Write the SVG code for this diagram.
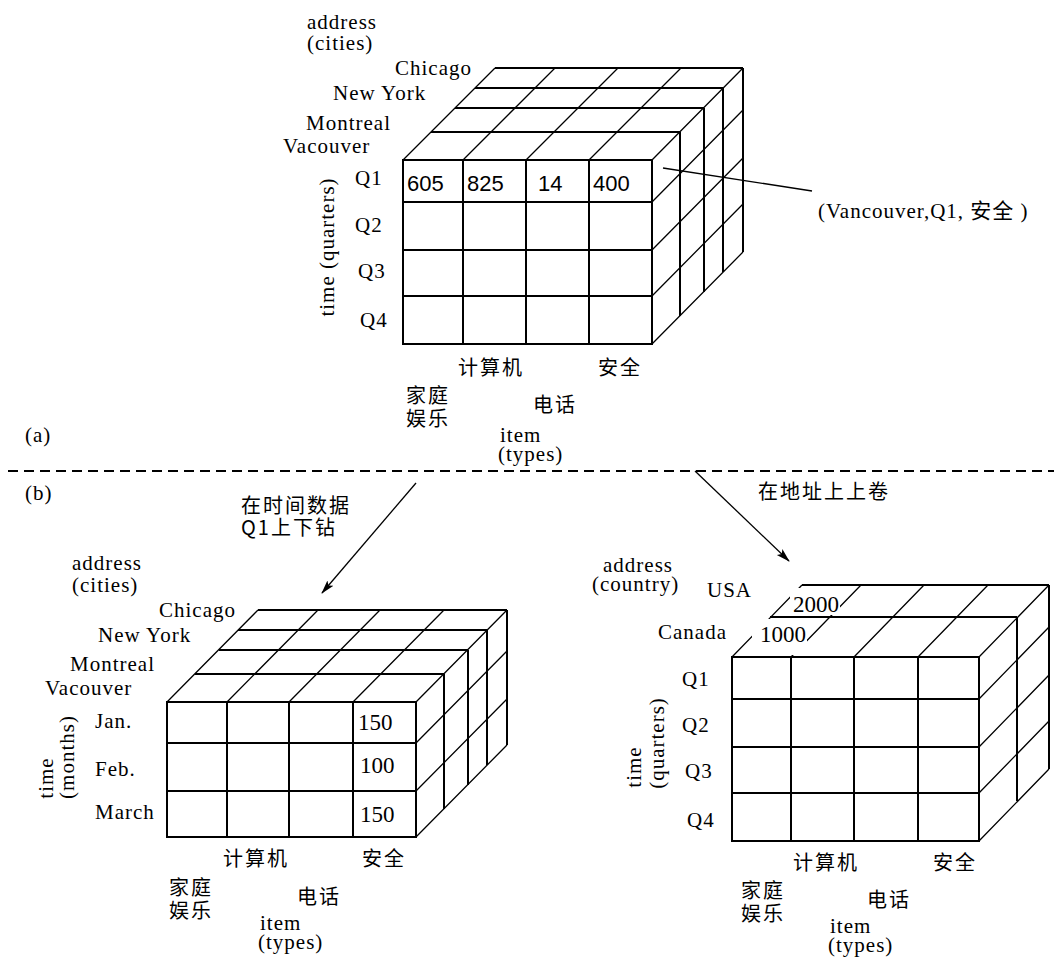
<svg xmlns="http://www.w3.org/2000/svg" width="1054" height="961" viewBox="0 0 1054 961">
<defs>
<style>
.s{font-family:"Liberation Serif","Times New Roman",serif;font-size:21px;letter-spacing:1px;fill:#000}
.n{font-family:"Liberation Sans",Arial,sans-serif;font-size:22px;fill:#000}
.d{font-family:"Liberation Serif","Times New Roman",serif;font-size:23px;fill:#000}
.c{font-family:"Noto Sans CJK SC","Noto Sans",sans-serif;font-size:20px;letter-spacing:2px;fill:#000}
.m{font-family:"Liberation Serif","Noto Sans CJK SC",serif;font-size:21px;letter-spacing:1px;fill:#000}
.g{fill:none;stroke:#000;stroke-width:2}
.dg{fill:none;stroke:#000;stroke-width:1.3}
.cn{fill:none;stroke:#000;stroke-width:1.3}
</style>
<marker id="ah" markerWidth="14" markerHeight="10" refX="13" refY="5" orient="auto" markerUnits="userSpaceOnUse">
<path d="M0,1 L14,5 L0,9 L3,5 Z" fill="#000"/>
</marker>
</defs>
<rect width="1054" height="961" fill="#fff"/>

<g id="cube-a">
<path class="g" d="M403,160H652V344H403Z M403,202H652 M403,250H652 M403,296H652 M463,160V344 M526,160V344 M589,160V344
M431,132H680 M455,108H704 M475,88H723 M495,68H743
M680,132V316 M704,108V292 M723,88V272 M743,68V252"/>
<path class="dg" d="M403,160L495,68 M463,160L555,68 M526,160L618,68 M589,160L681,68 M652,160L743,68
M652,202L743,110 M652,250L743,158 M652,296L743,204 M652,344L743,252"/>
<text class="s"><tspan x="307" y="29">address</tspan><tspan x="307" y="50">(cities)</tspan></text>
<text class="s" x="395" y="75">Chicago</text>
<text class="s" x="333" y="100">New York</text>
<text class="s" x="306" y="130">Montreal</text>
<text class="s" x="283" y="153">Vacouver</text>
<text class="s" x="355" y="185">Q1</text>
<text class="s" x="355" y="232">Q2</text>
<text class="s" x="358" y="278">Q3</text>
<text class="s" x="360" y="327">Q4</text>
<text class="s" text-anchor="middle" transform="translate(334,247) rotate(-90)">time (quarters)</text>
<text class="n" x="407" y="191">605</text>
<text class="n" x="467" y="191">825</text>
<text class="n" x="538" y="191">14</text>
<text class="n" x="593" y="191">400</text>
<text class="c" x="458" y="375">计算机</text>
<text class="c" x="598" y="375">安全</text>
<text class="c"><tspan x="406" y="403">家庭</tspan><tspan x="406" y="426">娱乐</tspan></text>
<text class="c" x="533" y="412">电话</text>
<text class="s"><tspan x="500" y="442">item</tspan><tspan x="498" y="461">(types)</tspan></text>
<text class="m" x="818" y="218">(Vancouver,Q1, 安全 )</text>
</g>

<g id="labels">
<text class="s" x="25" y="442">(a)</text>
<text class="s" x="25" y="500">(b)</text>
<text class="c"><tspan x="241" y="513">在时间数据</tspan><tspan x="241" y="535">Q1上下钻</tspan></text>
<text class="c" x="758" y="499">在地址上上卷</text>
</g>

<g id="cube-b-left">
<path class="g" d="M167,702H416V837H167Z M167,743H416 M167,791H416 M227,702V837 M289,702V837 M353,702V837
M195,674H444 M219,650H468 M238,630H487 M258,610H507
M444,674V809 M468,650V785 M487,630V765 M507,610V745"/>
<path class="dg" d="M167,702L258,610 M227,702L318,610 M289,702L380,610 M353,702L444,610 M416,702L507,610
M416,743L507,651 M416,791L507,699 M416,837L507,745"/>
<text class="s"><tspan x="72" y="570">address</tspan><tspan x="72" y="592">(cities)</tspan></text>
<text class="s" x="159" y="617">Chicago</text>
<text class="s" x="98" y="642">New York</text>
<text class="s" x="70" y="671">Montreal</text>
<text class="s" x="45" y="695">Vacouver</text>
<text class="s" x="95" y="728">Jan.</text>
<text class="s" x="95" y="776">Feb.</text>
<text class="s" x="95" y="819">March</text>
<text class="s" text-anchor="middle" transform="translate(53,778) rotate(-90)"><tspan x="0" y="0">time</tspan><tspan x="21" y="21">(months)</tspan></text>
<text class="d" x="358" y="730">150</text>
<text class="d" x="360" y="773">100</text>
<text class="d" x="360" y="822">150</text>
<text class="c" x="223" y="866">计算机</text>
<text class="c" x="362" y="866">安全</text>
<text class="c"><tspan x="169" y="895">家庭</tspan><tspan x="169" y="918">娱乐</tspan></text>
<text class="c" x="297" y="904">电话</text>
<text class="s"><tspan x="260" y="930">item</tspan><tspan x="258" y="949">(types)</tspan></text>
</g>

<g id="cube-b-right">
<path class="g" d="M732,657H979V841H732Z M732,699H979 M732,747H979 M732,793H979 M791,657V841 M854,657V841 M918,657V841
M770,617H1017 M802,585H1049 M1017,617V801 M1049,585V769"/>
<path class="dg" d="M732,657L802,585 M791,657L861,585 M854,657L924,585 M918,657L988,585 M979,657L1049,585
M979,699L1049,627 M979,747L1049,675 M979,793L1049,721 M979,841L1049,769"/>
<rect x="790" y="588" width="50" height="27" fill="#fff"/>
<rect x="752" y="619" width="55" height="36" fill="#fff"/>
<text class="d" x="793" y="612">2000</text>
<text class="d" x="760" y="642">1000</text>
<text class="s"><tspan x="603" y="572">address</tspan><tspan x="592" y="591">(country)</tspan></text>
<text class="s" x="707" y="597">USA</text>
<text class="s" x="658" y="639">Canada</text>
<text class="s" x="682" y="686">Q1</text>
<text class="s" x="682" y="732">Q2</text>
<text class="s" x="685" y="778">Q3</text>
<text class="s" x="687" y="827">Q4</text>
<text class="s" text-anchor="middle" transform="translate(641,767) rotate(-90)"><tspan x="0" y="0">time</tspan><tspan x="24" y="23">(quarters)</tspan></text>
<text class="c" x="793" y="870">计算机</text>
<text class="c" x="933" y="870">安全</text>
<text class="c"><tspan x="741" y="898">家庭</tspan><tspan x="741" y="921">娱乐</tspan></text>
<text class="c" x="867" y="907">电话</text>
<text class="s"><tspan x="830" y="933">item</tspan><tspan x="828" y="952">(types)</tspan></text>
</g>

<g id="connectors">
<line x1="8" y1="471" x2="1054" y2="471" stroke="#000" stroke-width="2" stroke-dasharray="10 6"/>
<line class="cn" x1="663" y1="168" x2="812" y2="191"/>
<line class="cn" x1="416" y1="483" x2="322" y2="593" marker-end="url(#ah)"/>
<line class="cn" x1="695" y1="471" x2="789" y2="561" marker-end="url(#ah)"/>
</g>
</svg>
